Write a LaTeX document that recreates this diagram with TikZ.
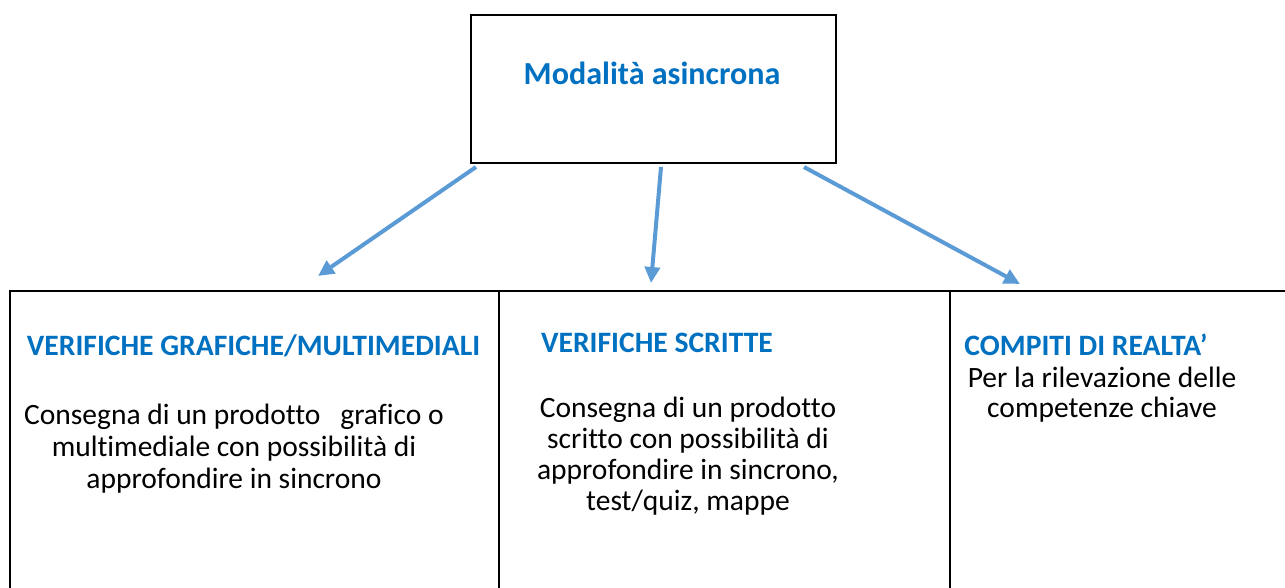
\documentclass[tikz,border=0pt]{standalone}
\usepackage{fontspec}
\setmainfont[Ligatures=NoCommon]{Carlito}
\usetikzlibrary{arrows.meta}
\definecolor{titleblue}{HTML}{0070C0}
\definecolor{arrowblue}{HTML}{5B9BD5}
\tikzset{
  frame/.style={draw=black, line width=2pt},
  heading/.style={text=titleblue, font=\bfseries\fontsize{29.6}{32}\selectfont, inner sep=0pt, anchor=base},
  bodytext/.style={text=black, align=center, inner sep=0pt, anchor=north},
  link/.style={draw=arrowblue, line width=4pt, -{Triangle[length=16pt,width=15pt]}}
}
\begin{document}
\begin{tikzpicture}[x=1pt,y=-1pt]
\useasboundingbox (0,0) rectangle (1285,588);
% top box
\node[frame, minimum width=365pt, minimum height=148pt, inner sep=0pt] (top) at (653.5,89) {};
\node[text=titleblue, font=\bfseries\fontsize{32.1}{36}\selectfont, inner sep=0pt, anchor=base] (title) at (652,85) {Modalità asincrona};
% table
\draw[frame] (10,588) |- (1285,291);
\draw[frame] (499,291) -- (499,588);
\draw[frame] (950,291) -- (950,588);
% headings
\node[heading] (h1) at (253.5,355) {VERIFICHE GRAFICHE/MULTIMEDIALI};
\node[heading] (h2) at (657,352) {VERIFICHE SCRITTE};
\node[heading] (h3) at (1086,355) {COMPITI DI REALTA’};
% body texts
\node[bodytext, font=\fontsize{29.5}{32}\selectfont] (b1) at (234,404) {Consegna di un prodotto \ \ grafico o\\multimediale con possibilità di\\approfondire in sincrono};
\node[bodytext, font=\fontsize{29.5}{31}\selectfont] (b2) at (688,397) {Consegna di un prodotto\\scritto con possibilità di\\approfondire in sincrono,\\test/quiz, mappe};
\node[bodytext, font=\fontsize{29.5}{30}\selectfont] (b3) at (1102,367) {Per la rilevazione delle\\competenze chiave};
% arrows
\coordinate (s1) at (476,167);
\coordinate (e1) at (318,276);
\coordinate (s2) at (661,167);
\coordinate (e2) at (651,283);
\coordinate (s3) at (804,167);
\coordinate (e3) at (1020,284);
\draw[link] (s1) -- (e1);
\draw[link] (s2) -- (e2);
\draw[link] (s3) -- (e3);
\end{tikzpicture}
\end{document}
